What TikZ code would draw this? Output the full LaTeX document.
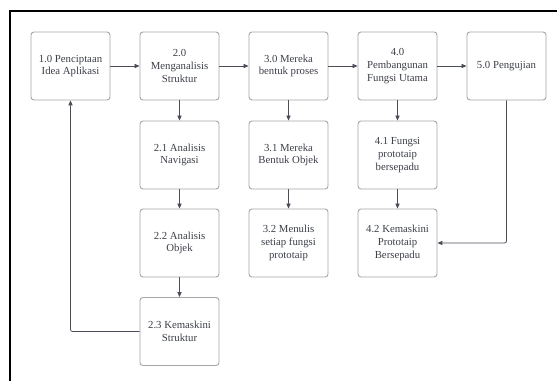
\documentclass[tikz,border=0pt]{standalone}
\usepackage{fontspec}
\setmainfont{Liberation Serif}
\usetikzlibrary{arrows.meta}
\definecolor{boxline}{HTML}{A6A6A8}
\definecolor{txt}{HTML}{3C4048}
\definecolor{arr}{HTML}{4A4E58}
\begin{document}
\begin{tikzpicture}[x=1bp,y=-1bp,
  procbox/.style={draw=boxline, line width=0.9bp, rounded corners=3bp, minimum width=79bp, minimum height=68bp,
    inner sep=0pt, align=center, text=txt, font=\fontsize{10.8}{12.7}\selectfont},
  conn/.style={draw=arr, line width=0.8bp, -{Triangle[length=5bp,width=4.2bp]}}]
\useasboundingbox (0,0) rectangle (557,380);
\fill[white] (0,0) rectangle (557,380);
\draw[line width=1.6bp, black] (10,381) -- (10,11) -- (558,11);
% row 1
\node[procbox] (n10) at (70.5,66) {1.0 Penciptaan\\Idea Aplikasi};
\node[procbox] (n20) at (179.5,66) {2.0\\Menganalisis\\Struktur};
\node[procbox] (n30) at (288.5,66) {3.0 Mereka\\bentuk proses};
\node[procbox] (n40) at (397.5,66) {4.0\\Pembangunan\\Fungsi Utama};
\node[procbox] (n50) at (506.5,66) {5.0 Pengujian};
% row 2
\node[procbox] (n21) at (179.5,155) {2.1 Analisis\\Navigasi};
\node[procbox] (n31) at (288.5,155) {3.1 Mereka\\Bentuk Objek};
\node[procbox] (n41) at (397.5,155) {4.1 Fungsi\\prototaip\\bersepadu};
% row 3
\node[procbox] (n22) at (179.5,243) {2.2 Analisis\\Objek};
\node[procbox] (n32) at (288.5,243) {3.2 Menulis\\setiap fungsi\\prototaip};
\node[procbox] (n42) at (397.5,243) {4.2 Kemaskini\\Prototaip\\Bersepadu};
% row 4
\node[procbox] (n23) at (179.5,331.5) {2.3 Kemaskini\\Struktur};
% connectors
\draw[conn] (n10) -- (n20);
\draw[conn] (n20) -- (n30);
\draw[conn] (n30) -- (n40);
\draw[conn] (n40) -- (n50);
\draw[conn] (n20) -- (n21);
\draw[conn] (n21) -- (n22);
\draw[conn] (n22) -- (n23);
\draw[conn] (n30) -- (n31);
\draw[conn] (n31) -- (n32);
\draw[conn] (n40) -- (n41);
\draw[conn] (n41) -- (n42);
\draw[conn, rounded corners=2bp] (n50.south) |- (n42.east);
\draw[conn, rounded corners=2bp] (n23.west) -| (n10.south);
\end{tikzpicture}
\end{document}
